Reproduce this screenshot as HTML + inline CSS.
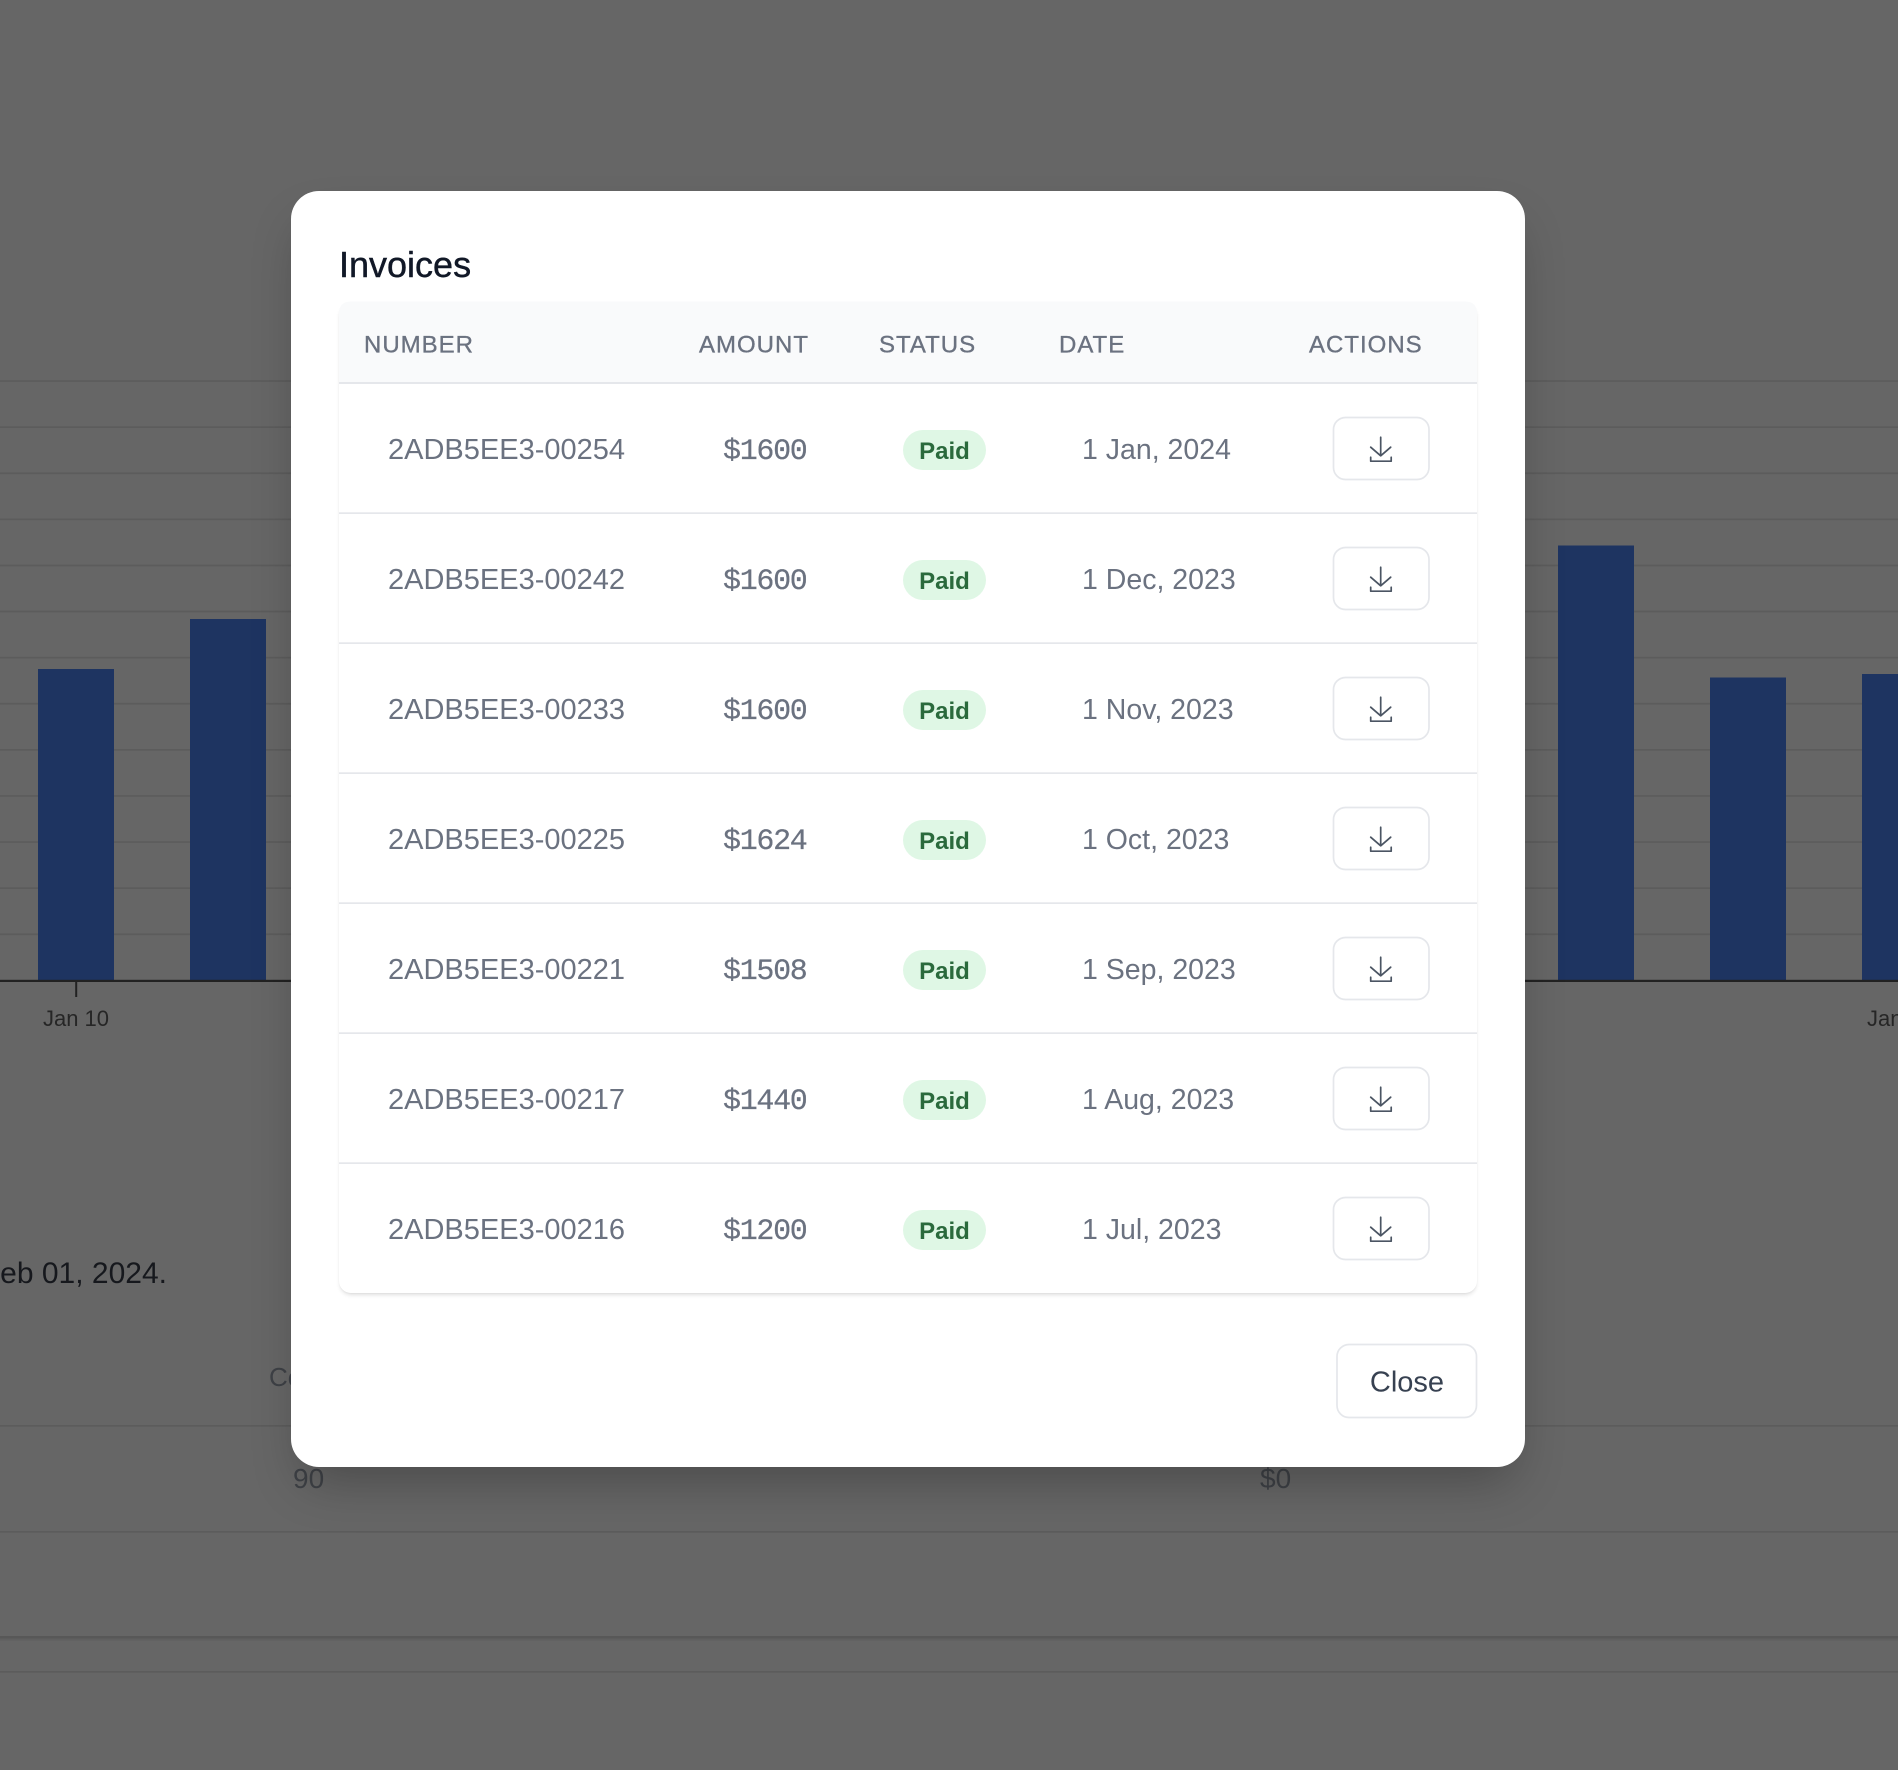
<!DOCTYPE html>
<html>
<head>
<meta charset="utf-8">
<style>
  html,body{margin:0;padding:0;}
  body{width:1898px;height:1770px;position:relative;overflow:hidden;background:#666666;font-family:"Liberation Sans",sans-serif;}
  svg{position:absolute;left:0;top:0;}
  .modal{position:absolute;left:291px;top:191px;width:1234px;height:1276px;background:#fff;border-radius:28px;box-shadow:0 25px 50px -12px rgba(0,0,0,0.28);}
  .tbl{position:absolute;left:339px;top:301.5px;width:1138px;height:991.5px;background:#fff;border-radius:12px;box-shadow:0 3px 4px -1px rgba(0,0,0,0.12),0 1px 2px -1px rgba(0,0,0,0.08);}
</style>
</head>
<body>
<!-- background chart -->
<svg width="1898" height="1770" viewBox="0 0 1898 1770" xmlns="http://www.w3.org/2000/svg">
  <rect x="0" y="0" width="1898" height="1770" fill="#666666"/>
  <g fill="#5c5c5c">
    <rect x="0" y="380.2" width="1898" height="1.7"/>
    <rect x="0" y="426.3" width="1898" height="1.7"/>
    <rect x="0" y="472.4" width="1898" height="1.7"/>
    <rect x="0" y="518.5" width="1898" height="1.7"/>
    <rect x="0" y="564.6" width="1898" height="1.7"/>
    <rect x="0" y="610.7" width="1898" height="1.7"/>
    <rect x="0" y="656.8" width="1898" height="1.7"/>
    <rect x="0" y="702.9" width="1898" height="1.7"/>
    <rect x="0" y="749.0" width="1898" height="1.7"/>
    <rect x="0" y="795.1" width="1898" height="1.7"/>
    <rect x="0" y="841.2" width="1898" height="1.7"/>
    <rect x="0" y="887.3" width="1898" height="1.7"/>
    <rect x="0" y="933.4" width="1898" height="1.7"/>
  </g>
  <g fill="#1e3461">
    <rect x="38" y="669" width="76" height="311"/>
    <rect x="190" y="619" width="76" height="361"/>
    <rect x="1558" y="545.5" width="76" height="434.5"/>
    <rect x="1710" y="677.5" width="76" height="302.5"/>
    <rect x="1862" y="674" width="76" height="306"/>
  </g>
  <rect x="0" y="979.8" width="1898" height="2.2" fill="#222222"/>
  <rect x="75.2" y="981" width="2" height="16" fill="#222222"/>
  <rect x="1899" y="981" width="2" height="16" fill="#222222"/>
  <text x="76" y="1026" font-family="Liberation Sans, sans-serif" font-size="22" fill="#262626" text-anchor="middle">Jan 10</text>
  <text x="1900" y="1026" font-family="Liberation Sans, sans-serif" font-size="22" fill="#262626" text-anchor="middle">Jan 24</text>

  <text x="167" y="1283" font-family="Liberation Sans, sans-serif" font-size="30" fill="#16181d" text-anchor="end">Feb 01, 2024.</text>
  <text x="269" y="1386" font-family="Liberation Sans, sans-serif" font-size="26" fill="#3e4146">Co</text>
  <text x="293" y="1488" font-family="Liberation Sans, sans-serif" font-size="28" fill="#3e4146">90</text>
  <text x="1260" y="1488" font-family="Liberation Sans, sans-serif" font-size="28" fill="#3e4146">$0</text>

  <g fill="#5c5c5c">
    <rect x="0" y="1425" width="1898" height="1.7"/>
    <rect x="0" y="1531" width="1898" height="1.7"/>
    <rect x="0" y="1636" width="1898" height="2.6" fill="#585858"/>
    <rect x="0" y="1638.6" width="1898" height="2" fill="#606060"/>
    <rect x="0" y="1671" width="1898" height="1.7"/>
  </g>
</svg>

<div class="modal"></div>
<div class="tbl"></div>

<!-- modal content -->
<svg width="1898" height="1770" viewBox="0 0 1898 1770" xmlns="http://www.w3.org/2000/svg" font-family="Liberation Sans, sans-serif">
  <text x="339" y="277" font-size="36" fill="#111827" stroke="#111827" stroke-width="0.45">Invoices</text>

  <path d="M339,383 V313.5 Q339,301.5 351,301.5 H1465 Q1477,301.5 1477,313.5 V383 Z" fill="#f9fafb"/>
  <rect x="339" y="382" width="1138" height="2" fill="#e5e7eb"/>
  <g font-size="24" fill="#6b7280" letter-spacing="1" stroke="#6b7280" stroke-width="0.35">
    <text x="364" y="352.5">NUMBER</text>
    <text x="699" y="352.5">AMOUNT</text>
    <text x="879" y="352.5">STATUS</text>
    <text x="1059" y="352.5">DATE</text>
    <text x="1309" y="352.5">ACTIONS</text>
  </g>

  <g fill="#e5e7eb">
    <rect x="339" y="512.3" width="1138" height="1.7"/>
    <rect x="339" y="642.3" width="1138" height="1.7"/>
    <rect x="339" y="772.3" width="1138" height="1.7"/>
    <rect x="339" y="902.3" width="1138" height="1.7"/>
    <rect x="339" y="1032.3" width="1138" height="1.7"/>
    <rect x="339" y="1162.3" width="1138" height="1.7"/>
  </g>

  <!-- number column -->
  <g font-size="29" fill="#6b7280">
    <text x="388" y="459">2ADB5EE3-00254</text>
    <text x="388" y="589">2ADB5EE3-00242</text>
    <text x="388" y="719">2ADB5EE3-00233</text>
    <text x="388" y="849">2ADB5EE3-00225</text>
    <text x="388" y="979">2ADB5EE3-00221</text>
    <text x="388" y="1109">2ADB5EE3-00217</text>
    <text x="388" y="1239">2ADB5EE3-00216</text>
  </g>

  <!-- amount column -->
  <g font-family="Liberation Mono, monospace" font-size="30" letter-spacing="-1.3" fill="#6b7280" stroke="#6b7280" stroke-width="0.25">
    <text x="723" y="459">$1600</text>
    <text x="723" y="589">$1600</text>
    <text x="723" y="719">$1600</text>
    <text x="723" y="849">$1624</text>
    <text x="723" y="979">$1508</text>
    <text x="723" y="1109">$1440</text>
    <text x="723" y="1239">$1200</text>
  </g>

  <!-- status badges -->
  <g fill="#dff7e5">
    <rect x="903" y="430" width="83" height="40" rx="20"/>
    <rect x="903" y="560" width="83" height="40" rx="20"/>
    <rect x="903" y="690" width="83" height="40" rx="20"/>
    <rect x="903" y="820" width="83" height="40" rx="20"/>
    <rect x="903" y="950" width="83" height="40" rx="20"/>
    <rect x="903" y="1080" width="83" height="40" rx="20"/>
    <rect x="903" y="1210" width="83" height="40" rx="20"/>
  </g>
  <g font-size="24" font-weight="bold" fill="#2a6a3c" text-anchor="middle">
    <text x="944.5" y="459">Paid</text>
    <text x="944.5" y="589">Paid</text>
    <text x="944.5" y="719">Paid</text>
    <text x="944.5" y="849">Paid</text>
    <text x="944.5" y="979">Paid</text>
    <text x="944.5" y="1109">Paid</text>
    <text x="944.5" y="1239">Paid</text>
  </g>

  <!-- date column -->
  <g font-size="28.5" fill="#6b7280">
    <text x="1082" y="459">1 Jan, 2024</text>
    <text x="1082" y="589">1 Dec, 2023</text>
    <text x="1082" y="719">1 Nov, 2023</text>
    <text x="1082" y="849">1 Oct, 2023</text>
    <text x="1082" y="979">1 Sep, 2023</text>
    <text x="1082" y="1109">1 Aug, 2023</text>
    <text x="1082" y="1239">1 Jul, 2023</text>
  </g>

  <!-- action buttons -->
  <g fill="#ffffff" stroke="#e5e7eb" stroke-width="1.7">
    <rect x="1333.5" y="417.5" width="95.5" height="62" rx="12"/>
    <rect x="1333.5" y="547.5" width="95.5" height="62" rx="12"/>
    <rect x="1333.5" y="677.5" width="95.5" height="62" rx="12"/>
    <rect x="1333.5" y="807.5" width="95.5" height="62" rx="12"/>
    <rect x="1333.5" y="937.5" width="95.5" height="62" rx="12"/>
    <rect x="1333.5" y="1067.5" width="95.5" height="62" rx="12"/>
    <rect x="1333.5" y="1197.5" width="95.5" height="62" rx="12"/>
  </g>
  <g fill="none" stroke="#4b5563" stroke-width="1.7" stroke-linecap="round" stroke-linejoin="round">
    <path d="M1380.7,437.2 V455.5 M1370.7,447.2 L1380.7,455.8 L1390.7,447.2 M1370.7,457.2 V461.2 H1391.2 V457.2"/>
    <path d="M1380.7,567.2 V585.5 M1370.7,577.2 L1380.7,585.8 L1390.7,577.2 M1370.7,587.2 V591.2 H1391.2 V587.2"/>
    <path d="M1380.7,697.2 V715.5 M1370.7,707.2 L1380.7,715.8 L1390.7,707.2 M1370.7,717.2 V721.2 H1391.2 V717.2"/>
    <path d="M1380.7,827.2 V845.5 M1370.7,837.2 L1380.7,845.8 L1390.7,837.2 M1370.7,847.2 V851.2 H1391.2 V847.2"/>
    <path d="M1380.7,957.2 V975.5 M1370.7,967.2 L1380.7,975.8 L1390.7,967.2 M1370.7,977.2 V981.2 H1391.2 V977.2"/>
    <path d="M1380.7,1087.2 V1105.5 M1370.7,1097.2 L1380.7,1105.8 L1390.7,1097.2 M1370.7,1107.2 V1111.2 H1391.2 V1107.2"/>
    <path d="M1380.7,1217.2 V1235.5 M1370.7,1227.2 L1380.7,1235.8 L1390.7,1227.2 M1370.7,1237.2 V1241.2 H1391.2 V1237.2"/>
  </g>

  <!-- close button -->
  <rect x="1337" y="1344.5" width="139.5" height="73" rx="12" fill="#ffffff" stroke="#e5e7eb" stroke-width="1.7"/>
  <text x="1407" y="1391.5" font-size="29" fill="#374151" text-anchor="middle">Close</text>
</svg>
</body>
</html>
